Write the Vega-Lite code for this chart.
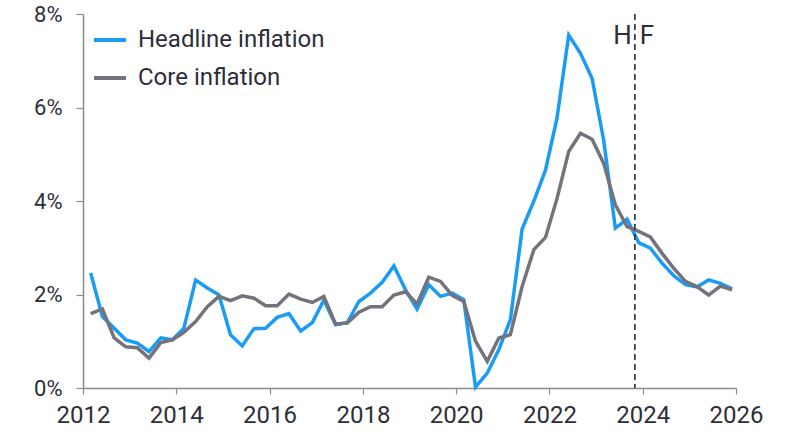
{
  "$schema": "https://vega.github.io/schema/vega-lite/v6.json",
  "width": 653,
  "height": 374,
  "autosize": "none",
  "padding": {"left": 83, "top": 14, "right": 53, "bottom": 44},
  "background": "white",
  "config": {"view": {"stroke": null}, "font": "Roboto"},
  "datasets": {
    "infl": [
      {"date": "2012-03-01", "Headline inflation": 2.46, "Core inflation": 1.59},
      {"date": "2012-06-01", "Headline inflation": 1.53, "Core inflation": 1.69},
      {"date": "2012-09-01", "Headline inflation": 1.28, "Core inflation": 1.07},
      {"date": "2012-12-01", "Headline inflation": 1.03, "Core inflation": 0.88},
      {"date": "2013-03-01", "Headline inflation": 0.96, "Core inflation": 0.86},
      {"date": "2013-06-01", "Headline inflation": 0.78, "Core inflation": 0.64},
      {"date": "2013-09-01", "Headline inflation": 1.07, "Core inflation": 0.97},
      {"date": "2013-12-01", "Headline inflation": 1.03, "Core inflation": 1.03},
      {"date": "2014-03-01", "Headline inflation": 1.28, "Core inflation": 1.19},
      {"date": "2014-06-01", "Headline inflation": 2.31, "Core inflation": 1.42},
      {"date": "2014-09-01", "Headline inflation": 2.14, "Core inflation": 1.74},
      {"date": "2014-12-01", "Headline inflation": 1.99, "Core inflation": 1.96},
      {"date": "2015-03-01", "Headline inflation": 1.14, "Core inflation": 1.87},
      {"date": "2015-06-01", "Headline inflation": 0.90, "Core inflation": 1.97},
      {"date": "2015-09-01", "Headline inflation": 1.27, "Core inflation": 1.92},
      {"date": "2015-12-01", "Headline inflation": 1.28, "Core inflation": 1.76},
      {"date": "2016-03-01", "Headline inflation": 1.51, "Core inflation": 1.76},
      {"date": "2016-06-01", "Headline inflation": 1.59, "Core inflation": 2.01},
      {"date": "2016-09-01", "Headline inflation": 1.22, "Core inflation": 1.90},
      {"date": "2016-12-01", "Headline inflation": 1.40, "Core inflation": 1.83},
      {"date": "2017-03-01", "Headline inflation": 1.88, "Core inflation": 1.96},
      {"date": "2017-06-01", "Headline inflation": 1.35, "Core inflation": 1.37},
      {"date": "2017-09-01", "Headline inflation": 1.40, "Core inflation": 1.39},
      {"date": "2017-12-01", "Headline inflation": 1.85, "Core inflation": 1.62},
      {"date": "2018-03-01", "Headline inflation": 2.03, "Core inflation": 1.74},
      {"date": "2018-06-01", "Headline inflation": 2.26, "Core inflation": 1.74},
      {"date": "2018-09-01", "Headline inflation": 2.61, "Core inflation": 1.99},
      {"date": "2018-12-01", "Headline inflation": 2.10, "Core inflation": 2.06},
      {"date": "2019-03-01", "Headline inflation": 1.69, "Core inflation": 1.80},
      {"date": "2019-06-01", "Headline inflation": 2.21, "Core inflation": 2.37},
      {"date": "2019-09-01", "Headline inflation": 1.96, "Core inflation": 2.28},
      {"date": "2019-12-01", "Headline inflation": 2.03, "Core inflation": 1.98},
      {"date": "2020-03-01", "Headline inflation": 1.89, "Core inflation": 1.85},
      {"date": "2020-06-01", "Headline inflation": 0.02, "Core inflation": 1.00},
      {"date": "2020-09-01", "Headline inflation": 0.32, "Core inflation": 0.57},
      {"date": "2020-12-01", "Headline inflation": 0.82, "Core inflation": 1.07},
      {"date": "2021-03-01", "Headline inflation": 1.46, "Core inflation": 1.14},
      {"date": "2021-06-01", "Headline inflation": 3.40, "Core inflation": 2.17},
      {"date": "2021-09-01", "Headline inflation": 4.00, "Core inflation": 2.96},
      {"date": "2021-12-01", "Headline inflation": 4.66, "Core inflation": 3.22},
      {"date": "2022-03-01", "Headline inflation": 5.77, "Core inflation": 4.05},
      {"date": "2022-06-01", "Headline inflation": 7.55, "Core inflation": 5.06},
      {"date": "2022-09-01", "Headline inflation": 7.16, "Core inflation": 5.45},
      {"date": "2022-12-01", "Headline inflation": 6.62, "Core inflation": 5.32},
      {"date": "2023-03-01", "Headline inflation": 5.31, "Core inflation": 4.81},
      {"date": "2023-06-01", "Headline inflation": 3.42, "Core inflation": 3.92},
      {"date": "2023-09-01", "Headline inflation": 3.61, "Core inflation": 3.45},
      {"date": "2023-12-01", "Headline inflation": 3.11, "Core inflation": 3.35},
      {"date": "2024-03-01", "Headline inflation": 2.99, "Core inflation": 3.23},
      {"date": "2024-06-01", "Headline inflation": 2.67, "Core inflation": 2.88},
      {"date": "2024-09-01", "Headline inflation": 2.40, "Core inflation": 2.56},
      {"date": "2024-12-01", "Headline inflation": 2.21, "Core inflation": 2.28},
      {"date": "2025-03-01", "Headline inflation": 2.16, "Core inflation": 2.17},
      {"date": "2025-06-01", "Headline inflation": 2.31, "Core inflation": 1.99},
      {"date": "2025-09-01", "Headline inflation": 2.24, "Core inflation": 2.18},
      {"date": "2025-12-01", "Headline inflation": 2.12, "Core inflation": 2.10}
    ],
    "divider": [
      {"date": "2023-11-01", "level": 7.52, "left": "H", "right": "F"}
    ]
  },
  "layer": [
    {
      "data": {"name": "infl"},
      "transform": [{"fold": ["Headline inflation", "Core inflation"], "as": ["series", "value"]}],
      "mark": {"type": "line", "strokeWidth": 3.5, "strokeJoin": "miter", "strokeCap": "butt"},
      "encoding": {
        "x": {
          "field": "date", "type": "temporal",
          "scale": {"type": "utc", "domain": [{"year": 2012, "month": 1, "date": 1, "utc": true}, {"year": 2026, "month": 1, "date": 1, "utc": true}]},
          "axis": {
            "title": null, "format": "%Y", "tickCount": {"interval": "year", "step": 2},
            "grid": false, "domainColor": "#8a8a8f", "domainWidth": 1.5, "tickColor": "#8a8a8f", "tickWidth": 1.2, "tickSize": 6,
            "labelFontSize": 24, "labelColor": "#2e2e38", "labelPadding": 9, "labelFlush": false
          }
        },
        "y": {
          "field": "value", "type": "quantitative",
          "scale": {"domain": [0, 8], "nice": false},
          "axis": {
            "title": null, "values": [0, 2, 4, 6, 8], "labelExpr": "datum.value + '%'",
            "grid": false, "domainColor": "#8a8a8f", "domainWidth": 1.5, "tickColor": "#8a8a8f", "tickWidth": 1.2, "tickSize": 7,
            "labelFontSize": 22, "labelColor": "#2e2e38", "labelPadding": 14
          }
        },
        "color": {
          "field": "series", "type": "nominal",
          "scale": {"domain": ["Headline inflation", "Core inflation"], "range": ["#1a9cf5", "#74737c"]},
          "legend": {
            "title": null, "orient": "none", "legendX": 9, "legendY": 8,
            "symbolType": "stroke", "symbolSize": 1024, "symbolStrokeWidth": 4,
            "labelFontSize": 24, "labelColor": "#2e2e38", "labelOffset": 10, "labelLimit": 400, "rowPadding": 8
          }
        }
      }
    },
    {
      "data": {"name": "divider"},
      "mark": {"type": "rule", "color": "#2e2e38", "strokeWidth": 1.6, "strokeDash": [6, 4]},
      "encoding": {"x": {"field": "date", "type": "temporal"}}
    },
    {
      "data": {"name": "divider"},
      "mark": {"type": "text", "align": "right", "dx": -3, "fontSize": 26, "color": "#2e2e38"},
      "encoding": {
        "x": {"field": "date", "type": "temporal"},
        "y": {"field": "level", "type": "quantitative"},
        "text": {"field": "left"}
      }
    },
    {
      "data": {"name": "divider"},
      "mark": {"type": "text", "align": "left", "dx": 5, "fontSize": 26, "color": "#2e2e38"},
      "encoding": {
        "x": {"field": "date", "type": "temporal"},
        "y": {"field": "level", "type": "quantitative"},
        "text": {"field": "right"}
      }
    }
  ]
}
